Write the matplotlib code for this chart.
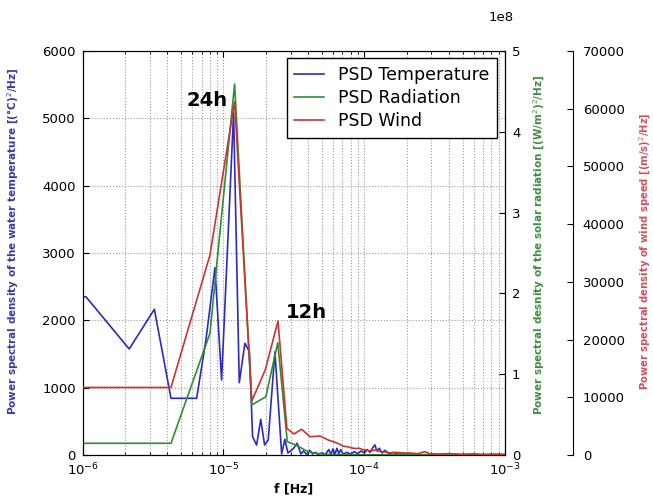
"""
PSD of water temperature, solar radiation and wind speed on three y axes
"""

import numpy as np
import matplotlib
matplotlib.use("Agg")
import matplotlib.pyplot as plt

# frequencies in units of 1e-6 Hz
temp_f = [0.9, 1.055, 2.14, 3.23, 4.24, 5.3, 6.45, 7.5, 8.7, 9.7, 11.8, 12.95, 14.2, 15.3,
          16.1, 17.2, 18.4, 19.6, 20.8, 23.2, 25.9, 27.3, 28.7, 30.0, 31.5, 33.4, 35.5,
          37, 39, 41, 43, 45, 47, 50, 53, 56, 58, 60, 62, 64, 66, 68, 71, 75, 80, 85,
          90, 95, 100, 105, 110, 115, 119, 123, 128, 134, 140, 150, 160, 175, 190, 210,
          250, 400, 1000]
temp_psd = [2350, 2350, 1574, 2164, 842, 842, 842, 1700, 2782, 1114, 5080, 1074, 1659, 1534,
            272, 148, 530, 148, 223, 1534, 15, 233, 30, 60, 100, 174, 15,
            60, 10, 70, 15, 40, 10, 30, 10, 80, 10, 90, 15, 100, 20, 80, 10, 40, 15, 50,
            20, 60, 30, 80, 40, 110, 150, 60, 100, 30, 70, 20, 40, 10, 30, 10,
            5, 3, 2]

rad_f = [0.9, 4.24, 8.02, 12.0, 15.9, 20.0, 24.3, 28.4, 31.5, 34.6, 38, 42, 46, 52, 60,
         80, 150, 1000]
rad_psd = [0.145e8, 0.145e8, 1.506e8, 4.59e8, 0.62e8, 0.72e8, 1.39e8, 0.165e8, 0.135e8,
           0.10e8, 0.06e8, 0.03e8, 0.02e8, 0.01e8, 0.005e8, 0.003e8, 0.002e8, 0.001e8]

wind_f = [0.9, 4.24, 8.02, 12.0, 15.9, 19.8, 24.4, 28.2, 31.7, 35.9, 41.2, 48.5, 55.5,
          63, 67, 71, 76, 80, 86, 92, 98, 105, 112, 120, 130, 140, 155, 170, 190, 210,
          240, 270, 290, 330, 400, 500, 600, 700, 850, 1000]
wind_psd = [11700, 11700, 34650, 61200, 9360, 14720, 23220, 4620, 3640, 4460, 3170, 3290, 2600,
            2140, 1870, 1520, 1440, 1280, 1110, 1170, 930, 820, 700, 880, 580, 530, 350,
            470, 290, 350, 230, 580, 230, 175, 230, 140, 210, 120, 175, 120]

c_temp = "#2b2bc4"
c_rad = "#2e8f2e"
c_wind = "#cc3333"

fig = plt.figure(figsize=(6.53, 4.97), dpi=100)
ax = fig.add_axes([0.1266, 0.0845, 0.6468, 0.813])
ax2 = ax.twinx()
ax3 = ax.twinx()
ax3.spines["right"].set_position(("axes", 1.161))

l1, = ax.plot(np.array(temp_f) * 1e-6, temp_psd, color=c_temp, lw=1.2, label="PSD Temperature")
l2, = ax2.plot(np.array(rad_f) * 1e-6, rad_psd, color=c_rad, lw=1.2, label="PSD Radiation")
l3, = ax3.plot(np.array(wind_f) * 1e-6, wind_psd, color=c_wind, lw=1.2, label="PSD Wind")

ax.set_xscale("log")
ax.set_xlim(1e-6, 1e-3)
ax.set_ylim(0, 6000)
ax2.set_ylim(0, 5e8)
ax3.set_ylim(0, 70000)

ax.grid(True, which="both", axis="x", ls=":", color="#9a9a9a", lw=0.8)
ax.grid(True, which="major", axis="y", ls=":", color="#9a9a9a", lw=0.8)

for a in (ax, ax2, ax3):
    a.tick_params(which="both", direction="in", labelsize=9.5, pad=5)
    a.tick_params(which="major", length=4)
    a.tick_params(which="minor", length=2)
ax.tick_params(which="both", top=True)
ax3.tick_params(pad=7)
for s in ("top", "left", "bottom"):
    ax3.spines[s].set_visible(False)

# scale factor of the radiation axis, placed where the reference shows it
ax2.yaxis.get_offset_text().set_visible(False)
fig.text(0.767, 0.964, "1e8", fontsize=9.5, ha="center", va="center")

ax.set_xlabel("f [Hz]", fontsize=9, fontweight="bold")
ax.xaxis.set_label_coords(0.5, -0.068)
ax.set_ylabel("Power spectral density of the water temperature [(°C)$^2$/Hz]",
              fontsize=7.5, fontweight="bold", color="#3a3aa8")
ax.yaxis.set_label_coords(-0.145, 0.53)
ax2.set_ylabel("Power spectral desnity of the solar radiation [(W/m$^2$)$^2$/Hz]",
               fontsize=7.5, fontweight="bold", color="#3f8f3f")
ax2.yaxis.set_label_coords(1.064, 0.52)
ax3.set_ylabel("Power spectral density of wind speed [(m/s)$^2$/Hz]",
               fontsize=7.2, fontweight="bold", color="#d05060")
ax3.yaxis.set_label_coords(1.315, 0.505)

ax.text(7.6e-6, 5270, "24h", fontsize=14, fontweight="bold", ha="center", va="center")
ax.text(3.9e-5, 2120, "12h", fontsize=14, fontweight="bold", ha="center", va="center")

leg = ax3.legend(handles=[l1, l2, l3], loc="upper right", bbox_to_anchor=(0.981, 0.983),
                 borderaxespad=0, fontsize=12.5, fancybox=False, framealpha=1,
                 edgecolor="black", handlelength=1.7, borderpad=0.45, labelspacing=0.3)
leg.get_frame().set_linewidth(1.0)

fig.savefig("out.png", dpi=100)
